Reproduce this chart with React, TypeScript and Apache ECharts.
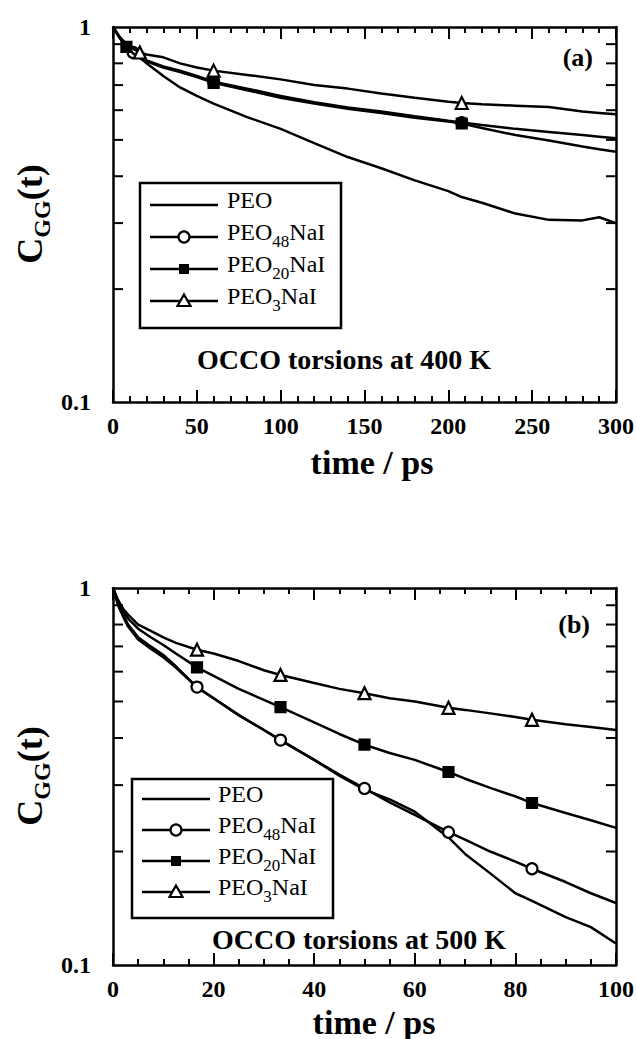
import React, { useEffect, useRef } from 'react';
import * as echarts from 'echarts';

// ---------- data: panel (a), 400 K ----------
const topTimes = [0, 4, 8, 12, 16, 20, 30, 40, 50, 60, 80, 100, 120, 140, 160, 180, 200, 208, 220, 240, 260, 280, 290, 300];
const topPEO = [1, 0.94, 0.895, 0.86, 0.83, 0.80, 0.74, 0.69, 0.655, 0.625, 0.575, 0.535, 0.49, 0.45, 0.42, 0.39, 0.365, 0.352, 0.34, 0.318, 0.306, 0.305, 0.311, 0.30];
const topPEO48 = [1, 0.935, 0.89, 0.855, 0.83, 0.815, 0.785, 0.765, 0.74, 0.715, 0.685, 0.655, 0.63, 0.61, 0.595, 0.578, 0.562, 0.556, 0.548, 0.535, 0.525, 0.515, 0.51, 0.505];
const topPEO20 = [1, 0.935, 0.885, 0.85, 0.825, 0.81, 0.78, 0.758, 0.735, 0.71, 0.678, 0.648, 0.625, 0.605, 0.59, 0.573, 0.56, 0.553, 0.538, 0.515, 0.498, 0.48, 0.472, 0.465];
const topPEO3 = [1, 0.94, 0.90, 0.875, 0.855, 0.845, 0.83, 0.80, 0.78, 0.765, 0.745, 0.725, 0.70, 0.685, 0.665, 0.648, 0.632, 0.627, 0.622, 0.617, 0.612, 0.595, 0.59, 0.585];
const topMarks48 = [12, 60, 208];
const topMarks20 = [8, 60, 208];
const topMarks3 = [16, 60, 208];

// ---------- data: panel (b), 500 K ----------
const botTimes = [0, 1, 2, 3, 5, 7.5, 10, 12.5, 16.7, 20, 25, 30, 33.3, 40, 45, 50, 55, 60, 66.7, 70, 75, 80, 83.3, 90, 95, 100];
const botPEO = [1, 0.90, 0.84, 0.79, 0.73, 0.69, 0.655, 0.615, 0.545, 0.51, 0.46, 0.42, 0.395, 0.35, 0.318, 0.292, 0.275, 0.255, 0.218, 0.197, 0.175, 0.155, 0.148, 0.134, 0.126, 0.114];
const botPEO48 = [1, 0.91, 0.85, 0.80, 0.74, 0.70, 0.664, 0.62, 0.546, 0.51, 0.46, 0.42, 0.395, 0.35, 0.32, 0.294, 0.27, 0.25, 0.225, 0.215, 0.20, 0.188, 0.18, 0.166, 0.155, 0.146];
const botPEO20 = [1, 0.92, 0.87, 0.83, 0.78, 0.74, 0.706, 0.67, 0.616, 0.585, 0.54, 0.505, 0.483, 0.44, 0.41, 0.384, 0.365, 0.35, 0.325, 0.312, 0.295, 0.28, 0.269, 0.253, 0.242, 0.231];
const botPEO3 = [1, 0.93, 0.88, 0.85, 0.80, 0.77, 0.74, 0.715, 0.686, 0.67, 0.64, 0.605, 0.588, 0.56, 0.54, 0.526, 0.51, 0.50, 0.481, 0.475, 0.465, 0.455, 0.447, 0.435, 0.428, 0.42];
const botMarks = [16.7, 33.3, 50, 66.7, 83.3];

// ---------- labels ----------
const seriesNames = ['PEO', 'PEO48NaI', 'PEO20NaI', 'PEO3NaI'];
const legendLabels = ['{m|PEO}', '{m|PEO}{s|48}{m|NaI}', '{m|PEO}{s|20}{m|NaI}', '{m|PEO}{s|3}{m|NaI}'];
const yMinorTicks = [0.2, 0.3, 0.4, 0.5, 0.6, 0.7, 0.8, 0.9];
const panelTags = ['(a)', '(b)'];
const panelNotes = ['OCCO torsions at 400 K', 'OCCO torsions at 500 K'];
const xTitle = 'time / ps';
const yTitle = '{c|C}{s|GG}{c|(t)}';

const FONT = 'Liberation Serif, Times New Roman, serif';
const LW = 2.5;

function lineSeries(name: string, times: number[], vals: number[], marks: number[], symbol: string, size: number, fill: string, axis: number, z: number) {
  return {
    type: 'line',
    name,
    xAxisIndex: axis,
    yAxisIndex: axis,
    symbol,
    symbolSize: size,
    showAllSymbol: true,
    z,
    lineStyle: { color: '#000', width: LW },
    itemStyle: { color: fill, borderColor: '#000', borderWidth: 2.2, opacity: 1 },
    emphasis: { disabled: true },
    data: times.map((t, i) => ({ value: [t, vals[i]], symbol: marks.indexOf(t) >= 0 ? symbol : 'none' })),
  };
}

function minorTickSeries(axis: number, xmin: number, xmax: number) {
  return {
    type: 'custom',
    xAxisIndex: axis,
    yAxisIndex: axis,
    silent: true,
    clip: false,
    z: 10,
    data: yMinorTicks.map((v) => [xmin, v]),
    encode: { x: 0, y: 1 },
    renderItem: (params: any, api: any) => {
      const v = api.value(1);
      const p = api.coord([xmin, v]);
      const q = api.coord([xmax, v]);
      return {
        type: 'group',
        children: [
          { type: 'line', shape: { x1: p[0], y1: p[1], x2: p[0] + 10, y2: p[1] }, style: { stroke: '#000', lineWidth: 2 } },
          { type: 'line', shape: { x1: q[0] - 10, y1: q[1], x2: q[0], y2: q[1] }, style: { stroke: '#000', lineWidth: 2 } },
        ],
      };
    },
  };
}

function xAxes(grid: number, max: number, interval: number, minorSplit: number) {
  const common = {
    gridIndex: grid,
    type: 'value',
    min: 0,
    max,
    interval,
    splitLine: { show: false },
    axisLine: { show: true, onZero: false, lineStyle: { color: '#000', width: 2.5 } },
    axisTick: { show: true, inside: true, length: 12, lineStyle: { color: '#000', width: 2 } },
    minorTick: { show: true, splitNumber: minorSplit, length: 6, lineStyle: { color: '#000', width: 2 } },
  };
  return [
    {
      ...common,
      position: 'bottom',
      axisLabel: { show: true, color: '#000', fontSize: 24, fontWeight: 'bold', fontFamily: FONT, margin: 12 },
    },
    { ...common, position: 'top', axisLabel: { show: false } },
  ];
}

function yAxes(grid: number) {
  const common = {
    gridIndex: grid,
    type: 'log',
    logBase: 10,
    min: 0.1,
    max: 1,
    splitLine: { show: false },
    axisLine: { show: true, onZero: false, lineStyle: { color: '#000', width: 2.5 } },
    axisTick: { show: false },
  };
  return [
    {
      ...common,
      position: 'left',
      axisLabel: {
        show: true,
        color: '#000',
        fontSize: 24,
        fontWeight: 'bold',
        fontFamily: FONT,
        margin: 22,
        padding: [0, 0, 8, 0],
        formatter: (v: number) => (Math.abs(v - 1) < 1e-6 ? '1' : Math.abs(v - 0.1) < 1e-6 ? '0.1' : ''),
      },
    },
    { ...common, position: 'right', axisLabel: { show: false } },
  ];
}

function legendGraphic(x: number, y: number, w: number, h: number, rows: number[], lx1: number, lx2: number, tx: number) {
  const mx = (lx1 + lx2) / 2;
  const children: any[] = [
    { type: 'rect', shape: { x, y, width: w, height: h }, style: { fill: '#fff', stroke: '#000', lineWidth: 2.5 } },
  ];
  rows.forEach((ry, i) => {
    children.push({ type: 'line', shape: { x1: lx1, y1: ry, x2: lx2, y2: ry }, style: { stroke: '#000', lineWidth: LW } });
    if (i === 1) children.push({ type: 'circle', shape: { cx: mx, cy: ry, r: 5.5 }, style: { fill: '#fff', stroke: '#000', lineWidth: 2.2 } });
    if (i === 2) children.push({ type: 'rect', shape: { x: mx - 5, y: ry - 5, width: 10, height: 10 }, style: { fill: '#000' } });
    if (i === 3) children.push({ type: 'polygon', shape: { points: [[mx, ry - 6.5], [mx + 6.5, ry + 5], [mx - 6.5, ry + 5]] }, style: { fill: '#fff', stroke: '#000', lineWidth: 2.2 } });
    children.push({
      type: 'text',
      x: tx,
      y: ry - 2,
      style: {
        text: legendLabels[i],
        align: 'left', textAlign: 'left',
        verticalAlign: 'middle', textVerticalAlign: 'middle',
        fill: '#000',
        rich: {
          m: { fontSize: 24, fontFamily: FONT, verticalAlign: 'bottom', padding: [0, 0, 6, 0], fill: '#000' },
          s: { fontSize: 17, fontFamily: FONT, verticalAlign: 'bottom', fill: '#000' },
        },
      },
    });
  });
  return { type: 'group', children, z: 100 };
}

function textEl(text: string, x: number, y: number, size: number, align: string, extra: any = {}) {
  return {
    type: 'text',
    x,
    y,
    z: 100,
    ...extra,
    style: {
      text,
      fill: '#000',
      fontSize: size,
      fontWeight: 'bold',
      fontFamily: FONT,
      align, textAlign: align,
      verticalAlign: 'middle', textVerticalAlign: 'middle',
    },
  };
}

function yTitleEl(x: number, y: number) {
  return {
    type: 'text',
    x,
    y,
    rotation: Math.PI / 2,
    z: 100,
    style: {
      text: yTitle,
      align: 'center', textAlign: 'center',
      verticalAlign: 'middle', textVerticalAlign: 'middle',
      fill: '#000',
      rich: {
        c: { fontSize: 36, fontWeight: 'bold', fontFamily: FONT, verticalAlign: 'bottom', padding: [0, 0, 6, 0], fill: '#000' },
        s: { fontSize: 24, fontWeight: 'bold', fontFamily: FONT, verticalAlign: 'bottom', fill: '#000' },
      },
    },
  };
}

export default function App() {
  const ref = useRef<HTMLDivElement>(null);
  useEffect(() => {
    if (!ref.current) return;
    const chart = echarts.init(ref.current, undefined, { renderer: 'svg' });
    const option: any = {
      animation: false,
      backgroundColor: '#fff',
      grid: [
        { left: 113, top: 27, width: 507, height: 375 },
        { left: 113, top: 588, width: 507, height: 377 },
      ],
      xAxis: [...xAxes(0, 300, 50, 5), ...xAxes(1, 100, 20, 4)],
      yAxis: [...yAxes(0), ...yAxes(1)],
      series: [
        lineSeries(seriesNames[0], topTimes, topPEO, [], 'none', 0, '#000', 0, 2),
        lineSeries(seriesNames[1], topTimes, topPEO48, topMarks48, 'circle', 11, '#fff', 0, 3),
        lineSeries(seriesNames[2], topTimes, topPEO20, topMarks20, 'rect', 10, '#000', 0, 4),
        lineSeries(seriesNames[3], topTimes, topPEO3, topMarks3, 'triangle', 12, '#fff', 0, 5),
        lineSeries(seriesNames[0], botTimes, botPEO, [], 'none', 0, '#000', 2, 2),
        lineSeries(seriesNames[1], botTimes, botPEO48, botMarks, 'circle', 11, '#fff', 2, 3),
        lineSeries(seriesNames[2], botTimes, botPEO20, botMarks, 'rect', 10, '#000', 2, 4),
        lineSeries(seriesNames[3], botTimes, botPEO3, botMarks, 'triangle', 12, '#fff', 2, 5),
        minorTickSeries(0, 0, 300),
        minorTickSeries(2, 0, 100),
      ],
      graphic: [
        legendGraphic(140, 183, 201, 145, [205, 237, 269, 301], 150, 218, 227),
        legendGraphic(132, 779, 201, 139, [799, 830, 861, 892], 142, 210, 218),
        textEl(panelTags[0], 593, 57, 26, 'right'),
        textEl(panelTags[1], 590, 624, 26, 'right'),
        textEl(panelNotes[0], 197, 359, 28, 'left'),
        textEl(panelNotes[1], 212, 939, 28, 'left'),
        textEl(xTitle, 372, 462, 34, 'center'),
        textEl(xTitle, 374, 1022, 34, 'center'),
        yTitleEl(33, 214),
        yTitleEl(33, 776),
      ],
    };
    chart.setOption(option);
    return () => chart.dispose();
  }, []);
  return <div ref={ref} style={{ position: 'fixed', left: 0, top: 0, width: 637, height: 1039, background: '#fff' }} />;
}
